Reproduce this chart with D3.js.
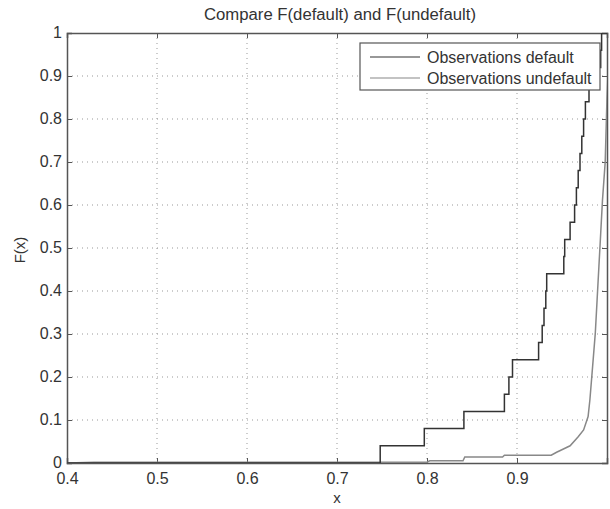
<!DOCTYPE html>
<html>
<head>
<meta charset="utf-8">
<script src="https://cdnjs.cloudflare.com/ajax/libs/d3/7.8.5/d3.min.js"></script>
<style>
  body { margin: 0; background: #fff; }
  text { font-family: "Liberation Sans", Arial, sans-serif; fill: #333; }
</style>
</head>
<body>
<div id="chart-area"></div>
<script>
// default observations (sorted), each step adds 1/25
var defaultObs = [0.748, 0.797, 0.841, 0.886, 0.891, 0.895, 0.924, 0.928, 0.930, 0.932,
    0.933, 0.952, 0.953, 0.959, 0.964, 0.966, 0.968, 0.970, 0.972, 0.974,
    0.976, 0.980, 0.985, 0.993, 0.994];

var undefaultX = [0.40, 0.43, 0.80, 0.803, 0.84, 0.842, 0.884, 0.886, 0.938, 0.944, 0.951,
    0.959, 0.968, 0.974, 0.979, 0.981, 0.984, 0.987, 0.989, 0.991, 0.993, 0.995, 0.998, 1.0, 1.003];
var undefaultF = [0, 0.002, 0.002, 0.005, 0.005, 0.014, 0.014, 0.018, 0.018, 0.025, 0.032,
    0.040, 0.061, 0.077, 0.108, 0.147, 0.224, 0.302, 0.379, 0.457, 0.534, 0.612, 0.70, 0.85, 1.0];

var xTicks = [0.4, 0.5, 0.6, 0.7, 0.8, 0.9, 1];
var yTicks = [0, 0.1, 0.2, 0.3, 0.4, 0.5, 0.6, 0.7, 0.8, 0.9, 1];
var legendLabels = ["Observations default", "Observations undefault"];

var margin = { left: 67, right: 3, top: 33, bottom: 46 },
    width = 610 - margin.left - margin.right,
    height = 509 - margin.top - margin.bottom;

var svg = d3.select("#chart-area").append("svg")
    .attr("width", 610)
    .attr("height", 509);

var g = svg.append("g")
    .attr("transform", "translate(" + margin.left + "," + margin.top + ")");

var x = d3.scaleLinear().domain([0.4, 1]).range([0, width]);
var y = d3.scaleLinear().domain([0, 1]).range([height, 0]);

svg.append("defs").append("clipPath").attr("id", "clip")
    .append("rect").attr("width", width).attr("height", height);

// Grid
g.append("g").selectAll("line").data(xTicks.slice(1, -1)).enter().append("line")
    .attr("x1", function(d){ return x(d); }).attr("x2", function(d){ return x(d); })
    .attr("y1", 0).attr("y2", height)
    .attr("stroke", "#999").attr("stroke-dasharray", "1,4");

g.append("g").selectAll("line").data(yTicks.slice(1, -1)).enter().append("line")
    .attr("y1", function(d){ return y(d); }).attr("y2", function(d){ return y(d); })
    .attr("x1", 0).attr("x2", width)
    .attr("stroke", "#999").attr("stroke-dasharray", "1,4");

// Axes (inward ticks, box style)
var xAxisCall = d3.axisBottom(x).tickValues(xTicks).tickSize(-5).tickPadding(10)
    .tickFormat(function(d){ return d === 1 ? "" : d3.format("")(d); });
var yAxisCall = d3.axisLeft(y).tickValues(yTicks).tickSize(-5).tickPadding(5)
    .tickFormat(d3.format(""));

var xAxis = g.append("g").attr("transform", "translate(0," + height + ")").call(xAxisCall);
var yAxis = g.append("g").call(yAxisCall);
g.append("g").call(d3.axisTop(x).tickValues(xTicks).tickSize(-5).tickFormat(""));
g.append("g").attr("transform", "translate(" + width + ",0)")
    .call(d3.axisRight(y).tickValues(yTicks).tickSize(-5).tickFormat(""));

g.selectAll(".domain").attr("stroke", "#555").attr("stroke-width", 1.5);
g.selectAll(".tick line").attr("stroke", "#555");
g.selectAll(".tick text").attr("font-size", "16px").style("fill", "#333");
yAxis.selectAll(".tick text").attr("dy", "0.28em");

// Default ECDF (steps)
var defPts = [[0.4, 0]].concat(defaultObs.map(function(d, i){ return [d, (i + 1) / defaultObs.length]; }));
defPts.push([1.0, 1]);

var stepLine = d3.line()
    .x(function(d){ return x(d[0]); })
    .y(function(d){ return y(d[1]); })
    .curve(d3.curveStepAfter);

var plain = d3.line()
    .x(function(d){ return x(d[0]); })
    .y(function(d){ return y(d[1]); });

var undefPts = undefaultX.map(function(d, i){ return [d, undefaultF[i]]; });

var lines = g.append("g").attr("clip-path", "url(#clip)");

lines.append("path")
    .attr("fill", "none").attr("stroke", "#888").attr("stroke-width", 1.5)
    .attr("d", plain(undefPts));

lines.append("path")
    .attr("fill", "none").attr("stroke", "#333").attr("stroke-width", 1.5)
    .attr("d", stepLine(defPts));

// Legend
var legend = g.append("g").attr("transform", "translate(" + (360 - margin.left) + "," + (43 - margin.top) + ")");
legend.append("rect")
    .attr("width", 240).attr("height", 47)
    .attr("fill", "#fff").attr("stroke", "#555").attr("stroke-width", 1.2);

var legendColors = ["#333", "#888"];
legendLabels.forEach(function(lab, i){
    var row = legend.append("g").attr("transform", "translate(0," + (14 + i * 21) + ")");
    row.append("line").attr("x1", 10).attr("x2", 60)
        .attr("stroke", legendColors[i]).attr("stroke-width", 1.2);
    row.append("text").attr("x", 67).attr("y", 6)
        .attr("font-size", "16px").text(lab);
});

// Labels
svg.append("text")
    .attr("x", 340).attr("y", 20)
    .attr("font-size", "16px").attr("text-anchor", "middle")
    .attr("textLength", 272).attr("lengthAdjust", "spacingAndGlyphs")
    .text("Compare F(default) and F(undefault)");

svg.append("text")
    .attr("x", 337).attr("y", 503)
    .attr("font-size", "15px").attr("text-anchor", "middle")
    .text("x");

svg.append("text")
    .attr("transform", "rotate(-90)")
    .attr("x", -250).attr("y", 25)
    .attr("font-size", "15px").attr("text-anchor", "middle")
    .text("F(x)");
</script>
</body>
</html>
